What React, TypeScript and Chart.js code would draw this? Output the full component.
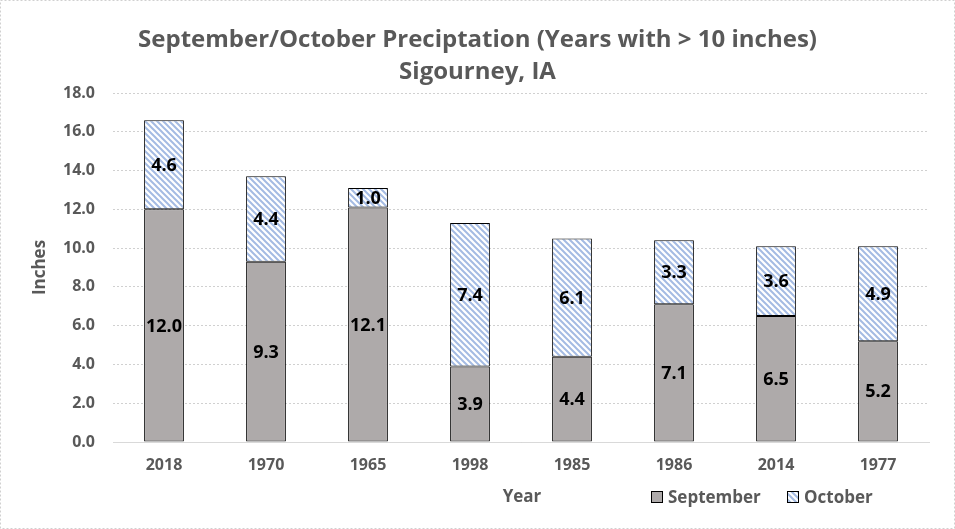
import React, { useEffect, useRef } from "react";
import { Chart, registerables } from "chart.js";

Chart.register(...registerables);

const years = ["2018", "1970", "1965", "1998", "1985", "1986", "2014", "1977"];
const september = [12.0, 9.3, 12.1, 3.9, 4.4, 7.1, 6.5, 5.2];
const october = [4.6, 4.4, 1.0, 7.4, 6.1, 3.3, 3.6, 4.9];
const titleLines = ["September/October Preciptation (Years with > 10 inches)", "Sigourney, IA"];
const seriesNames = ["September", "October"];

const FONT = "'Open Sans', 'DejaVu Sans', sans-serif";
const TEXT = "#595959";

function makeHatch(): CanvasPattern | string {
  const c = document.createElement("canvas");
  c.width = 6;
  c.height = 6;
  const g = c.getContext("2d");
  if (!g) return "#c5d3ee";
  g.fillStyle = "#ffffff";
  g.fillRect(0, 0, 6, 6);
  g.strokeStyle = "#a4bbe3";
  g.lineWidth = 2;
  g.beginPath();
  g.moveTo(-1, -1);
  g.lineTo(7, 7);
  g.moveTo(-4, 2);
  g.lineTo(4, 10);
  g.moveTo(2, -4);
  g.lineTo(10, 4);
  g.stroke();
  const p = g.createPattern(c, "repeat");
  return p || "#c5d3ee";
}

export default function App() {
  const ref = useRef<HTMLCanvasElement | null>(null);

  useEffect(() => {
    if (!ref.current) return;
    const hatch = makeHatch();

    const labelsPlugin = {
      id: "segLabels",
      afterDatasetsDraw(chart: any) {
        const ctx = chart.ctx;
        ctx.save();
        ctx.font = `bold 18px ${FONT}`;
        ctx.fillStyle = "#000000";
        ctx.textAlign = "center";
        ctx.textBaseline = "middle";
        chart.data.datasets.forEach((ds: any, di: number) => {
          const meta = chart.getDatasetMeta(di);
          meta.data.forEach((el: any, i: number) => {
            const v = ds.data[i];
            const y = (el.y + el.base) / 2;
            ctx.fillText(Number(v).toFixed(1), el.x, y + 1);
          });
        });
        ctx.restore();
      },
    };

    const extrasPlugin = {
      id: "extras",
      afterDraw(chart: any) {
        const ctx = chart.ctx;
        const area = chart.chartArea;
        ctx.save();
        // title centred on the whole canvas
        ctx.font = `bold 24px ${FONT}`;
        ctx.fillStyle = TEXT;
        ctx.textAlign = "center";
        ctx.textBaseline = "middle";
        titleLines.forEach((t, i) => ctx.fillText(t, chart.width / 2, 40 + i * 32));
        // x-axis title
        ctx.font = `bold 17px ${FONT}`;
        ctx.fillText("Year", (area.left + area.right) / 2 + 1, 497);
        // legend
        ctx.textAlign = "left";
        const items = [
          { x: 651, fill: "#aeaaaa", label: seriesNames[0] },
          { x: 787, fill: hatch, label: seriesNames[1] },
        ];
        items.forEach((it) => {
          ctx.fillStyle = it.fill as any;
          ctx.fillRect(it.x, 491, 12, 12);
          ctx.strokeStyle = "#000000";
          ctx.lineWidth = 1;
          ctx.strokeRect(it.x + 0.5, 491.5, 11, 11);
          ctx.fillStyle = TEXT;
          ctx.fillText(it.label, it.x + 17, 498);
        });
        // outer border
        ctx.strokeStyle = "#d0d0d0";
        ctx.setLineDash([2, 2]);
        ctx.lineWidth = 1;
        ctx.strokeRect(0.5, 0.5, chart.width - 1, chart.height - 1);
        ctx.restore();
      },
    };

    const chart = new Chart(ref.current, {
      type: "bar",
      data: {
        labels: years,
        datasets: [
          {
            label: seriesNames[0],
            data: september,
            backgroundColor: "#aeaaaa",
            borderColor: "#000000",
            borderWidth: 1,
            borderSkipped: false,
            categoryPercentage: 1,
            barPercentage: 0.39,
          },
          {
            label: seriesNames[1],
            data: october,
            backgroundColor: hatch as any,
            borderColor: "#000000",
            borderWidth: 1,
            borderSkipped: false,
            categoryPercentage: 1,
            barPercentage: 0.39,
          },
        ],
      },
      options: {
        responsive: false,
        animation: false,
        layout: { padding: { left: 0, right: 26, top: 93, bottom: 0 } },
        plugins: {
          legend: { display: false },
          tooltip: { enabled: false },
          title: { display: false },
        },
        scales: {
          x: {
            stacked: true,
            grid: { display: false, drawTicks: false },
            border: { display: true, color: "#d9d9d9", width: 1 },
            ticks: {
              color: TEXT,
              font: { family: FONT, size: 16, weight: "bold" },
              padding: 14,
            },
            afterFit: (s: any) => {
              s.height = 87;
            },
          },
          y: {
            stacked: true,
            min: 0,
            max: 18,
            grid: {
              color: "#d0d0d0",
              drawTicks: false,
              lineWidth: 1,
            },
            border: { display: false, dash: [2, 2] },
            ticks: {
              stepSize: 2,
              color: TEXT,
              font: { family: FONT, size: 16, weight: "bold" },
              padding: 18,
              callback: (v: any) => Number(v).toFixed(1),
            },
            title: {
              display: true,
              text: "Inches",
              color: TEXT,
              font: { family: FONT, size: 17, weight: "bold" },
              padding: { top: 30, bottom: 0 },
            },
            afterFit: (s: any) => {
              s.width = 113;
            },
          },
        },
      },
      plugins: [labelsPlugin, extrasPlugin],
    });

    return () => chart.destroy();
  }, []);

  return (
    <div style={{ position: "fixed", left: 0, top: 0, width: 955, height: 529, background: "#fff" }}>
      <canvas ref={ref} width={955} height={529} style={{ display: "block" }} />
    </div>
  );
}
